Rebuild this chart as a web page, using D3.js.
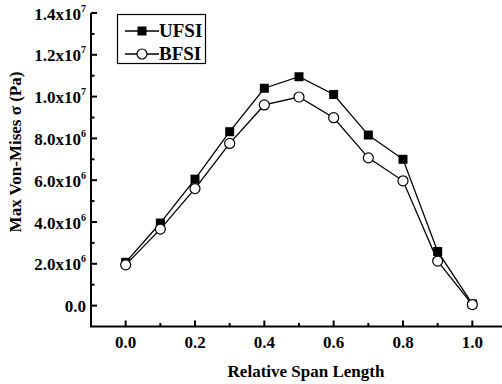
<!DOCTYPE html>
<html>
<head>
<meta charset="utf-8">
<script src="https://cdn.jsdelivr.net/npm/d3@7"></script>
<style>
  body { margin: 0; background: #fff; }
  text { font-family: "Liberation Serif", "Times New Roman", serif; font-weight: bold; fill: #000; }
</style>
</head>
<body>
<script>
// 数据
const span = [0.0, 0.1, 0.2, 0.3, 0.4, 0.5, 0.6, 0.7, 0.8, 0.9, 1.0];
const ufsi = [2.07e6, 3.95e6, 6.05e6, 8.32e6, 10.4e6, 10.95e6, 10.1e6, 8.16e6, 7.0e6, 2.59e6, 0.08e6];
const bfsi = [1.95e6, 3.66e6, 5.6e6, 7.76e6, 9.6e6, 9.98e6, 8.99e6, 7.07e6, 5.97e6, 2.13e6, 0.05e6];
const yTicks = [0, 2e6, 4e6, 6e6, 8e6, 1.0e7, 1.2e7, 1.4e7];
const yLabels = ["0.0", "2.0x10|6", "4.0x10|6", "6.0x10|6", "8.0x10|6", "1.0x10|7", "1.2x10|7", "1.4x10|7"];
const xTicks = [0.0, 0.2, 0.4, 0.6, 0.8, 1.0];
const xLabels = ["0.0", "0.2", "0.4", "0.6", "0.8", "1.0"];

// 常量
const width = 502;
const height = 384;
const x0 = 91, x1 = 507, yTop = 13, yBot = 326.5;

const svg = d3.select('body').append('svg')
  .attr('width', width).attr('height', height);

const xScale = d3.scaleLinear().domain([-0.1, 1.1]).range([x0, x1]);
const yScale = d3.scaleLinear().domain([-1e6, 1.4e7]).range([yBot, yTop]);

// 坐标轴线
svg.append('path')
  .attr('d', `M${x0},${yTop}V${yBot}H${x1}`)
  .attr('fill', 'none').attr('stroke', '#000').attr('stroke-width', 2);

// y轴刻度（朝内）
const yMinor = d3.range(0, 14.5e6, 1e6);
svg.append('g').selectAll('line').data(yMinor).enter().append('line')
  .attr('x1', x0).attr('x2', d => x0 + (d % 2e6 === 0 ? 6 : 3.5))
  .attr('y1', d => yScale(d)).attr('y2', d => yScale(d))
  .attr('stroke', '#000').attr('stroke-width', 2);

// x轴刻度（朝内）
const xMinor = d3.range(0, 11).map(i => i / 10);
svg.append('g').selectAll('line').data(xMinor).enter().append('line')
  .attr('x1', d => xScale(d)).attr('x2', d => xScale(d))
  .attr('y1', yBot).attr('y2', (d, i) => yBot - (i % 2 === 0 ? 6 : 3.5))
  .attr('stroke', '#000').attr('stroke-width', 2);

// y轴标签
const yl = svg.append('g').selectAll('text').data(yTicks).enter().append('text')
  .attr('x', 86).attr('y', d => yScale(d) + 6.5)
  .attr('text-anchor', 'end').attr('font-size', 17);
yl.each(function(d, i) {
  const parts = yLabels[i].split('|');
  const t = d3.select(this);
  t.append('tspan').text(parts[0]);
  if (parts[1]) {
    t.append('tspan').attr('dy', -8).attr('font-size', 10).text(parts[1]);
  }
});

// x轴标签
svg.append('g').selectAll('text').data(xTicks).enter().append('text')
  .attr('x', d => xScale(d)).attr('y', 347.5)
  .attr('text-anchor', 'middle').attr('font-size', 17)
  .text((d, i) => xLabels[i]);

// 轴标题
svg.append('text').attr('x', 306).attr('y', 377)
  .attr('text-anchor', 'middle').attr('font-size', 17)
  .text('Relative Span Length');
svg.append('text')
  .attr('transform', 'translate(21,152) rotate(-90)')
  .attr('text-anchor', 'middle').attr('font-size', 17)
  .text('Max Von-Mises σ (Pa)');

// 折线
const line = d3.line().x((d, i) => xScale(span[i])).y(d => yScale(d));
[ufsi, bfsi].forEach(s => {
  svg.append('path').datum(s).attr('d', line)
    .attr('fill', 'none').attr('stroke', '#000').attr('stroke-width', 1.3);
});

// 标记
svg.append('g').selectAll('rect').data(ufsi).enter().append('rect')
  .attr('x', (d, i) => xScale(span[i]) - 4.5).attr('y', d => yScale(d) - 4.5)
  .attr('width', 9).attr('height', 9).attr('fill', '#000');
svg.append('g').selectAll('circle').data(bfsi).enter().append('circle')
  .attr('cx', (d, i) => xScale(span[i])).attr('cy', d => yScale(d)).attr('r', 5)
  .attr('fill', '#fff').attr('stroke', '#000').attr('stroke-width', 1.2);

// 图例
const lg = svg.append('g');
lg.append('rect').attr('x', 117.5).attr('y', 14.5).attr('width', 88).attr('height', 49)
  .attr('fill', '#fff').attr('stroke', '#000').attr('stroke-width', 1.2);
const legendItems = [{ name: 'UFSI', y: 31, type: 'sq' }, { name: 'BFSI', y: 54, type: 'ci' }];
legendItems.forEach(d => {
  lg.append('line').attr('x1', 125).attr('x2', 159).attr('y1', d.y).attr('y2', d.y)
    .attr('stroke', '#000').attr('stroke-width', 1.3);
  if (d.type === 'sq') {
    lg.append('rect').attr('x', 142 - 4.5).attr('y', d.y - 4.5).attr('width', 9).attr('height', 9).attr('fill', '#000');
  } else {
    lg.append('circle').attr('cx', 142).attr('cy', d.y).attr('r', 5)
      .attr('fill', '#fff').attr('stroke', '#000').attr('stroke-width', 1.2);
  }
  lg.append('text').attr('x', 159).attr('y', d.y + 5.5).attr('font-size', 19).text(d.name);
});
</script>
</body>
</html>
